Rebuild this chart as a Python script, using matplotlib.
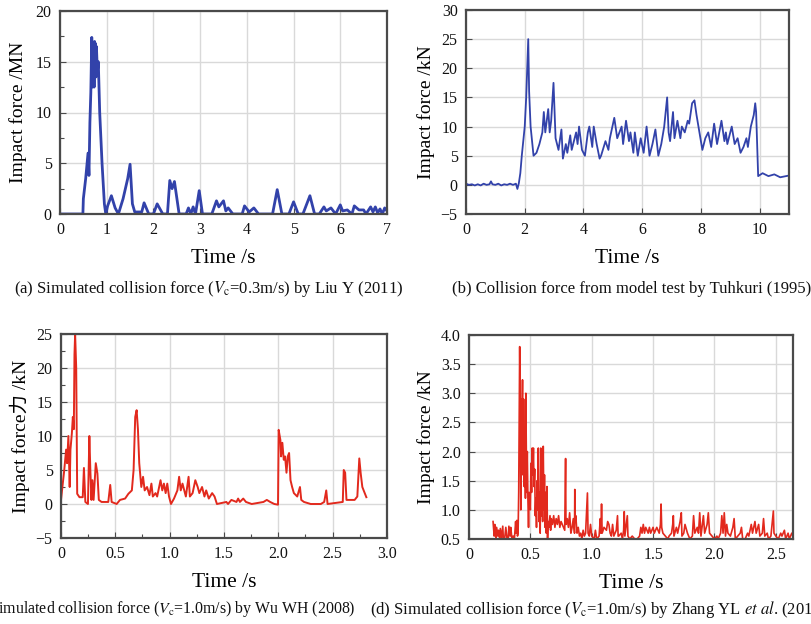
import matplotlib
matplotlib.use('Agg')
import matplotlib.pyplot as plt
from matplotlib.ticker import MultipleLocator

plt.rcParams.update({
    'font.family': ['Liberation Serif', 'Noto Sans CJK SC'],
    'mathtext.fontset': 'stix',
    'font.size': 11,
})

# ---- (a) Liu Y (2011), MN ----
a_t = [0.0, 0.49, 0.50, 0.55, 0.60, 0.62, 0.64, 0.66, 0.68, 0.69, 0.70, 0.71, 0.72,
       0.73, 0.74, 0.75, 0.76, 0.77, 0.78, 0.80, 0.82, 0.85, 0.90, 0.95, 0.98, 1.02,
       1.10, 1.18, 1.25, 1.35, 1.45, 1.50, 1.55, 1.60, 1.75, 1.80, 1.90, 2.00, 2.08,
       2.20, 2.30, 2.35, 2.40, 2.45, 2.55, 2.70, 2.75, 2.80, 2.85, 2.90, 2.98, 3.05,
       3.25, 3.35, 3.40, 3.50, 3.55, 3.60, 3.70, 3.90, 3.95, 4.05, 4.15, 4.25, 4.55,
       4.65, 4.75, 4.90, 5.00, 5.10, 5.20, 5.35, 5.45, 5.55, 5.65, 5.70, 5.80, 5.90,
       6.00, 6.05, 6.15, 6.25, 6.30, 6.40, 6.50, 6.55, 6.65, 6.70, 6.75, 6.80, 6.85,
       6.90, 6.95, 7.00]
a_f = [0.0, 0.0, 1.5, 3.5, 6.0, 3.8, 9.0, 12.0, 17.4, 12.5, 16.8, 13.0, 16.5,
       12.5, 17.0, 13.5, 16.8, 13.5, 16.5, 14.0, 15.0, 10.0, 5.0, 1.0, 0.0, 0.8,
       1.8, 0.6, 0.0, 1.5, 3.5, 4.9, 1.0, 0.2, 0.2, 1.1, 0.0, 0.0, 1.0,
       0.0, 0.0, 3.3, 2.5, 3.2, 0.0, 0.0, 0.6, 0.0, 0.7, 0.0, 2.3, 0.0,
       0.0, 1.3, 0.7, 1.3, 0.3, 0.6, 0.0, 0.0, 0.8, 0.2, 0.6, 0.0, 0.0,
       2.4, 0.0, 0.0, 1.2, 0.0, 0.0, 1.8, 0.0, 0.0, 0.7, 0.3, 0.6, 0.0,
       0.9, 0.3, 0.4, 0.0, 0.8, 0.4, 0.4, 0.0, 0.7, 0.2, 0.7, 0.1, 0.5,
       0.0, 0.6, 0.3]

# ---- (b) Tuhkuri (1995), kN ----
b_t = [0.0, 0.1, 0.2, 0.3, 0.4, 0.5, 0.6, 0.7, 0.8, 0.85, 0.9, 1.0, 1.1, 1.2, 1.3,
       1.4, 1.5, 1.6, 1.7, 1.75, 1.8, 1.85, 1.9, 2.0, 2.05, 2.12, 2.15, 2.2, 2.3,
       2.4, 2.5, 2.6, 2.65, 2.7, 2.8, 2.85, 2.9, 2.98, 3.05, 3.15, 3.25, 3.3, 3.4,
       3.45, 3.55, 3.6, 3.75, 3.8, 3.85, 3.95, 4.05, 4.15, 4.2, 4.3, 4.35, 4.45,
       4.55, 4.6, 4.75, 4.85, 4.9, 5.05, 5.15, 5.3, 5.35, 5.45, 5.55, 5.6, 5.7,
       5.75, 5.85, 5.95, 6.05, 6.15, 6.25, 6.35, 6.45, 6.55, 6.65, 6.75, 6.85,
       6.9, 6.95, 7.05, 7.1, 7.2, 7.3, 7.35, 7.45, 7.55, 7.6, 7.7, 7.78, 7.85,
       7.95, 8.05, 8.15, 8.25, 8.35, 8.45, 8.55, 8.7, 8.8, 8.85, 8.9, 9.05, 9.15,
       9.25, 9.35, 9.45, 9.55, 9.6, 9.7, 9.8, 9.85, 9.88, 9.95, 10.1, 10.3, 10.5,
       10.7, 11.0]
b_f = [0.2, 0.0, 0.1, -0.1, 0.1, -0.1, 0.2, 0.0, 0.1, 0.6, 0.1, 0.0, 0.2, -0.1, 0.1,
       0.0, 0.2, 0.0, 0.2, -0.7, 0.3, 2.0, 5.0, 10.0, 15.0, 25.0, 16.0, 10.0, 5.0,
       5.5, 7.0, 9.0, 12.5, 9.0, 13.0, 9.0, 11.0, 17.5, 8.0, 6.0, 9.5, 4.5, 7.0,
       5.5, 8.5, 6.0, 9.0, 7.0, 10.0, 6.0, 5.0, 9.0, 10.0, 6.5, 10.0, 7.0,
       4.5, 5.0, 7.5, 6.0, 8.0, 11.5, 8.0, 10.0, 7.0, 11.0, 7.5, 9.0, 5.5,
       9.0, 5.0, 8.0, 5.5, 10.0, 5.0, 7.0, 9.5, 5.0, 7.0, 10.0, 15.0,
       9.0, 7.5, 12.5, 8.0, 11.0, 8.0, 10.0, 9.0, 11.0, 10.5, 14.0, 14.5, 12.0,
       9.0, 6.0, 8.0, 9.0, 6.5, 10.5, 7.0, 11.0, 7.5, 9.0, 7.0, 10.0, 7.0,
       8.0, 5.5, 6.5, 8.0, 6.5, 10.0, 12.0, 14.0, 12.5, 1.5, 2.0, 1.5, 1.8,
       1.3, 1.6]

# ---- (c) Wu WH (2008), kN ----
c_t = [0.0, 0.03, 0.047, 0.056, 0.068, 0.08, 0.087, 0.10, 0.109, 0.118, 0.124, 0.13,
       0.14, 0.149, 0.17, 0.20, 0.211, 0.224, 0.248, 0.261, 0.27, 0.28, 0.289, 0.30,
       0.32, 0.335, 0.348, 0.373, 0.435, 0.453, 0.466, 0.512, 0.543, 0.59, 0.62,
       0.652, 0.668, 0.683, 0.696, 0.708, 0.72, 0.739, 0.755, 0.77, 0.792, 0.814,
       0.832, 0.845, 0.87, 0.885, 0.916, 0.932, 0.947, 0.963, 0.978, 0.994, 1.012,
       1.04, 1.071, 1.087, 1.102, 1.118, 1.149, 1.174, 1.186, 1.211, 1.236, 1.258,
       1.273, 1.298, 1.32, 1.336, 1.36, 1.391, 1.413, 1.435, 1.522, 1.537, 1.568,
       1.615, 1.63, 1.646, 1.677, 1.702, 1.755, 1.863, 1.894, 1.925, 1.963, 1.997,
       2.003, 2.019, 2.025, 2.037, 2.05, 2.062, 2.075, 2.087, 2.099, 2.112, 2.127,
       2.143, 2.174, 2.199, 2.211, 2.236, 2.298, 2.391, 2.422, 2.441, 2.453, 2.593,
       2.602, 2.615, 2.627, 2.702, 2.727, 2.745, 2.758, 2.773, 2.795, 2.81]
c_f = [0.6, 5.0, 8.0, 6.0, 10.0, 2.5, 8.0, 10.4, 12.8, 11.0, 22.0, 25.0,
       20.0, 1.5, 1.0, 1.0, 5.3, 0.3, 0.0, 10.0, 5.0, 0.6, 3.5, 0.6,
       6.0, 4.5, 0.6, 0.3, 0.3, 2.8, 0.3, 0.0, 0.6, 0.8, 1.5,
       2.0, 5.0, 12.8, 13.8, 11.0, 6.0, 2.5, 4.0, 2.0, 2.5, 1.3,
       3.0, 1.1, 1.6, 1.1, 3.5, 2.0, 3.0, 1.6, 3.0, 1.1, 0.0,
       0.8, 2.0, 4.0, 2.0, 3.0, 1.1, 4.0, 1.1, 1.6, 3.5, 2.5,
       1.6, 2.5, 1.1, 2.0, 0.8, 1.6, 1.1, 0.0, 0.3, 0.0, 0.6,
       0.3, 0.8, 0.3, 0.8, 0.3, 0.0, 0.3, 0.6, 0.3, 0.0, -0.1,
       10.9, 9.4, 7.0, 9.0, 6.5, 7.0, 4.6, 7.0, 7.5, 3.5, 2.5,
       1.6, 1.1, 2.5, 0.6, 0.3, 0.0, 0.0, 0.3, 2.0, 0.0, 0.3,
       5.0, 4.6, 0.6, 0.6, 1.1, 6.7, 4.5, 2.5, 1.6, 1.0]

# ---- (d) Zhang YL et al., kN ----
d_t = [0.196, 0.205, 0.21, 0.22, 0.225, 0.235, 0.24, 0.25, 0.255, 0.265, 0.275, 0.28,
       0.29, 0.30, 0.31, 0.32, 0.325, 0.335, 0.34, 0.35, 0.36, 0.37, 0.38, 0.385,
       0.39, 0.395, 0.40, 0.405, 0.413, 0.418, 0.422, 0.427, 0.43, 0.436, 0.44,
       0.445, 0.45, 0.455, 0.46, 0.463, 0.468, 0.47, 0.475, 0.48, 0.485, 0.49, 0.5,
       0.505, 0.51, 0.515, 0.52, 0.525, 0.53, 0.535, 0.54, 0.545, 0.55, 0.555, 0.56,
       0.565, 0.57, 0.575, 0.58, 0.585, 0.59, 0.595, 0.6, 0.605, 0.61, 0.615, 0.62,
       0.625, 0.63, 0.635, 0.64, 0.645, 0.65, 0.66, 0.665, 0.67, 0.68, 0.69, 0.70,
       0.71, 0.72, 0.73, 0.74, 0.75, 0.78, 0.787, 0.79, 0.80, 0.81, 0.82, 0.83,
       0.84, 0.85, 0.86, 0.862, 0.865, 0.87, 0.88, 0.89, 0.9, 0.91, 0.92, 0.93,
       0.94, 0.95, 0.965, 0.97, 0.98, 0.99, 1.0, 1.02, 1.03, 1.04, 1.06, 1.07,
       1.075, 1.08, 1.085, 1.10, 1.12, 1.13, 1.14, 1.15, 1.16, 1.17, 1.18, 1.2,
       1.21, 1.215, 1.22, 1.24, 1.25, 1.26, 1.265, 1.27, 1.29, 1.295, 1.31, 1.33,
       1.35, 1.37, 1.39, 1.40, 1.41, 1.42, 1.43, 1.44, 1.46, 1.47, 1.48, 1.5,
       1.51, 1.53, 1.55, 1.56, 1.565, 1.57, 1.58, 1.6, 1.62, 1.63, 1.65, 1.66,
       1.665, 1.67, 1.69, 1.70, 1.72, 1.73, 1.735, 1.75, 1.76, 1.78, 1.8, 1.82,
       1.83, 1.84, 1.86, 1.87, 1.88, 1.89, 1.91, 1.92, 1.94, 1.95, 1.96, 1.98,
       2.0, 2.02, 2.03, 2.05, 2.06, 2.07, 2.08, 2.09, 2.1, 2.11, 2.13, 2.15,
       2.16, 2.17, 2.19, 2.21, 2.22, 2.23, 2.25, 2.27, 2.28, 2.3, 2.31, 2.33,
       2.34, 2.36, 2.37, 2.39, 2.4, 2.41, 2.43, 2.44, 2.46, 2.48, 2.485, 2.5,
       2.52, 2.54, 2.55, 2.57, 2.58, 2.6, 2.61, 2.63, 2.64]
d_f = [0.80, 0.55, 0.75, 0.5, 0.7, 0.55, 0.65, 0.5, 0.68, 0.52, 0.72, 0.5,
       0.5, 0.7, 0.5, 0.52, 0.72, 0.55, 0.7, 0.5, 0.55, 0.5, 0.8, 0.6,
       0.82, 0.55, 0.6, 1.3, 3.8, 2.6, 1.0, 2.9, 2.2, 3.23, 1.6,
       2.9, 1.4, 2.3, 1.2, 3.0, 1.9, 1.3, 2.0, 1.2, 0.7, 1.3, 1.0,
       1.8, 1.3, 2.06, 1.6, 2.06, 1.4, 1.7, 0.9, 1.2, 0.7, 1.5, 1.0,
       2.06, 0.8, 1.3, 0.6, 2.06, 0.9, 1.5, 0.8, 2.09, 1.0, 1.6, 0.7,
       1.3, 0.6, 1.4, 0.5, 0.8, 0.7, 0.9, 0.65, 0.85, 0.75, 0.9, 0.7,
       0.85, 0.75, 0.9, 0.7, 0.8, 0.65, 1.88, 0.75, 0.85, 0.7, 0.95, 0.6,
       0.7, 0.85, 0.6, 1.35, 0.8, 0.9, 0.6, 0.7, 0.55, 0.6, 0.5, 0.65,
       0.55, 0.6, 1.29, 0.6, 0.55, 0.75, 0.55, 0.5, 0.65, 0.5, 0.55, 0.85,
       0.6, 1.1, 0.6, 0.7, 0.65, 0.8, 0.75, 0.6, 0.55, 0.75, 0.55, 0.65,
       0.9, 0.55, 0.55, 0.6, 0.5, 0.65, 0.97, 0.55, 0.9, 0.55, 0.5, 0.55,
       0.5, 0.5, 0.55, 0.7, 0.6, 0.75, 0.6, 0.7, 0.6, 0.7, 0.6, 0.7,
       0.6, 0.7, 0.6, 0.75, 1.1, 0.7, 0.6, 0.55, 0.5, 0.55, 0.6, 0.75,
       0.9, 0.55, 0.7, 0.6, 0.8, 0.95, 0.55, 0.6, 0.75, 0.6, 0.5, 0.55,
       0.9, 0.6, 0.7, 0.6, 0.95, 0.55, 0.9, 0.6, 0.75, 0.95, 0.6, 0.55,
       0.5, 0.55, 0.5, 0.6, 0.9, 0.6, 0.95, 0.55, 0.75, 0.6, 0.55, 0.7,
       0.85, 0.5, 0.55, 0.6, 0.7, 0.5, 0.5, 0.6, 0.55, 0.75, 0.6, 0.8,
       0.6, 0.75, 0.55, 0.6, 0.85, 0.55, 0.6, 0.5, 0.55, 0.98, 0.6, 0.55,
       0.5, 0.6, 0.55, 0.65, 0.5, 0.6, 0.5, 0.6, 0.55]

BLUE = "#3242aa"
RED = "#e2291d"
FRAME = "#4a4a4a"
GRID = "#d9d9d9"
W, H = 812, 624


def px_axes(fig, x0, y0, x1, y1):
    return fig.add_axes([x0 / W, 1 - y1 / H, (x1 - x0) / W, (y1 - y0) / H])


def style_ax(ax, xlim, ylim, xticks, yticks, xlabels=None, ylabels=None,
             xminor=None, yminor=None):
    ax.set_xlim(*xlim)
    ax.set_ylim(*ylim)
    ax.set_xticks(xticks)
    ax.set_yticks(yticks)
    if xlabels:
        ax.set_xticklabels(xlabels)
    if ylabels:
        ax.set_yticklabels(ylabels)
    if xminor:
        ax.xaxis.set_minor_locator(MultipleLocator(xminor))
    if yminor:
        ax.yaxis.set_minor_locator(MultipleLocator(yminor))
    ax.grid(True, which="major", color=GRID, lw=1.0)
    ax.set_axisbelow(True)
    for s in ax.spines.values():
        s.set_color(FRAME)
        s.set_linewidth(1.6)
    ax.tick_params(which="both", direction="in", labelsize=11.5, pad=6,
                   color=FRAME, labelcolor="#111111")
    ax.tick_params(which="major", length=4, width=0.8)
    ax.tick_params(which="minor", length=3, width=0.8)
    ax.set_xlabel("Time /s", fontsize=15.5, labelpad=8)


fig = plt.figure(figsize=(W / 100, H / 100), dpi=100)

ax = px_axes(fig, 60, 11, 387, 214)
ax.plot(a_t, a_f, color=BLUE, lw=2.0)
style_ax(ax, (0, 7), (0, 20), range(0, 8), range(0, 21, 5), yminor=2.5)
ax.set_ylabel("Impact force /MN", fontsize=14, labelpad=6)

ax = px_axes(fig, 466, 10, 789, 214)
ax.plot(b_t, b_f, color=BLUE, lw=1.3)
style_ax(ax, (0, 11), (-5, 30), range(0, 11, 2), range(-5, 31, 5))
ax.set_ylabel("Impact force /kN", fontsize=14, labelpad=4)

ax = px_axes(fig, 61, 334, 387, 538)
ax.plot(c_t, c_f, color=RED, lw=1.4)
style_ax(ax, (0, 3), (-5, 25), [0, 0.5, 1, 1.5, 2, 2.5, 3], range(-5, 26, 5),
         xlabels=["0", "0.5", "1.0", "1.5", "2.0", "2.5", "3.0"],
         xminor=0.25, yminor=2.5)
ax.set_ylabel("Impact force力 /kN", fontsize=14, labelpad=4)

ax = px_axes(fig, 469, 335, 793, 539)
ax.plot(d_t, d_f, color=RED, lw=1.2)
style_ax(ax, (0, 2.64), (0.5, 4.0), [0, 0.5, 1, 1.5, 2, 2.5],
         [0.5, 1, 1.5, 2, 2.5, 3, 3.5, 4],
         xlabels=["0", "0.5", "1.0", "1.5", "2.0", "2.5"],
         ylabels=["0.5", "1.0", "1.5", "2.0", "2.5", "3.0", "3.5", "4.0"])
ax.set_ylabel("Impact force /kN", fontsize=14, labelpad=4)

cap = dict(va="center", color="#111111")
fig.text(14 / W, 1 - 289 / H,
         r"(a) Simulated collision force ($V_{\rm c}$=0.3m/s) by Liu Y (2011)",
         ha="left", fontsize=12, **cap)
fig.text(452 / W, 1 - 289 / H,
         r"(b) Collision force from model test by Tuhkuri (1995)",
         ha="left", fontsize=12, **cap)
fig.text(356 / W, 1 - 609 / H,
         r"(c) Simulated collision force ($V_{\rm c}$=1.0m/s) by Wu WH (2008)",
         ha="right", fontsize=11.4, **cap)
fig.text(370 / W, 1 - 609 / H,
         r"(d) Simulated collision force ($V_{\rm c}$=1.0m/s) by Zhang YL $et\ al$. (2019)",
         ha="left", fontsize=12, **cap)

plt.savefig("out.png", dpi=100)
plt.close()
